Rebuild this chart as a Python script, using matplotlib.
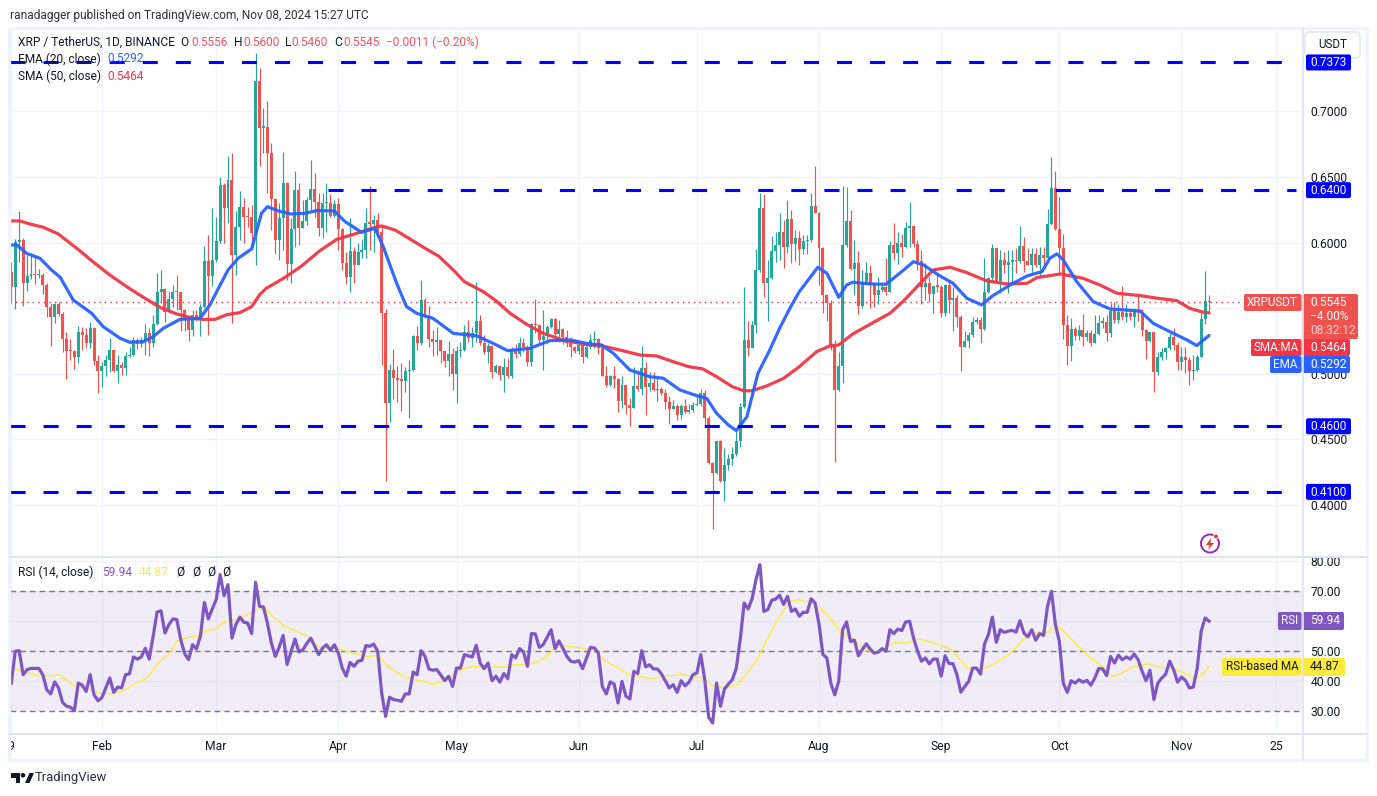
import numpy as np
import matplotlib
matplotlib.use("Agg")
import matplotlib.pyplot as plt
from matplotlib.patches import FancyBboxPatch, Rectangle, Circle, Polygon

plt.rcParams['font.family'] = ['Roboto', 'DejaVu Sans']

first_open = 0.5779
closes = [
 .5664,.6007,.6020,.5695,.5746,.5761,.5753,.5755,.5677,.5512,
 .5436,.5532,.5456,.5268,.5177,.5172,.5131,.5317,.5296,.5238,
 .5349,.5101,.5024,.5060,.5106,.5182,.5024,.5067,.5047,.5136,
 .5144,.5258,.5228,.5258,.5309,.5238,.5377,.5626,.5647,.5474,
 .5568,.5626,.5621,.5487,.5410,.5334,.5448,.5410,.5512,.5862,
 .5746,.5868,.6013,.6439,.6267,.6477,.5906,.6122,.6269,.6198,
 .6195,.6071,.7232,.6876,.6884,.6686,.6335,.6020,.6190,.6452,
 .5837,.6104,.6401,.6112,.6165,.6325,.6409,.6312,.6114,.6300,
 .6305,.6206,.6295,.6104,.5848,.5741,.5936,.5830,.5931,.5944,
 .6147,.6145,.6173,.6084,.5466,.4780,.5029,.4971,.4953,.4948,
 .5021,.5026,.5288,.5237,.5562,.5443,.5265,.5242,.5255,.5174,
 .5098,.5151,.4999,.5174,.5179,.5319,.5275,.5308,.5402,.5237,
 .5166,.5212,.5014,.5059,.4988,.5054,.4983,.5189,.5151,.5232,
 .5202,.5090,.5377,.5372,.5258,.5288,.5354,.5418,.5303,.5341,
 .5283,.5232,.5202,.5176,.5219,.5130,.5202,.5258,.5262,.5194,
 .4983,.4915,.4983,.4961,.4796,.4915,.4760,.4740,.4907,.4882,
 .5042,.4902,.4933,.4877,.4882,.4851,.4788,.4732,.4755,.4686,
 .4755,.4709,.4724,.4763,.4770,.4851,.4666,.4318,.4247,.4488,
 .4183,.4305,.4348,.4389,.4488,.4745,.5258,.5200,.5373,.5792,
 .6264,.5695,.5728,.5937,.5982,.6079,.5970,.6180,.5990,.6033,
 .5952,.6013,.6018,.6279,.6224,.5962,.5601,.5543,.5220,.4877,
 .5060,.5985,.6165,.5797,.5842,.5517,.5690,.5766,.5678,.5601,
 .5639,.5665,.5627,.5982,.5924,.5995,.5965,.6109,.6127,.5990,
 .5860,.5665,.5690,.5609,.5670,.5665,.5467,.5678,.5563,.5576,
 .5436,.5208,.5251,.5296,.5395,.5411,.5342,.5627,.5728,.5962,
 .5710,.5868,.5830,.5855,.5868,.5860,.5975,.5863,.5830,.5914,
 .5830,.5906,.5886,.6142,.6416,.6101,.5962,.5373,.5215,.5342,
 .5289,.5334,.5284,.5314,.5233,.5304,.5390,.5393,.5314,.5482,
 .5411,.5474,.5436,.5466,.5436,.5474,.5467,.5334,.5253,.5317,
 .5017,.5131,.5169,.5195,.5278,.5220,.5093,.5126,.5106,.5022,
 .5029,.5131,.5415,.5556,.5545]
highs = [
 .5855,.6030,.6241,.6038,.5905,.5923,.5893,.5799,.5766,.5690,
 .5537,.5537,.5550,.5474,.5316,.5268,.5182,.5365,.5360,.5347,
 .5398,.5360,.5144,.5093,.5144,.5271,.5190,.5144,.5093,.5169,
 .5207,.5283,.5271,.5283,.5377,.5347,.5448,.5766,.5791,.5652,
 .5626,.5677,.5753,.5626,.5495,.5436,.5487,.5487,.5530,.5974,
 .6058,.6262,.6198,.6503,.6452,.6660,.6681,.6241,.6394,.6338,
 .6274,.6287,.7443,.7328,.7024,.7082,.6757,.6338,.6300,.6693,
 .6465,.6190,.6546,.6452,.6325,.6350,.6630,.6528,.6376,.6376,
 .6452,.6371,.6325,.6338,.6109,.5931,.6185,.5969,.5995,.6025,
 .6261,.6432,.6211,.6223,.6135,.5491,.5075,.5189,.5060,.5080,
 .5054,.5105,.5296,.5364,.5715,.5575,.5517,.5334,.5354,.5258,
 .5174,.5253,.5194,.5212,.5245,.5372,.5410,.5359,.5697,.5448,
 .5296,.5237,.5212,.5075,.5067,.5118,.5118,.5202,.5227,.5283,
 .5270,.5219,.5385,.5570,.5377,.5486,.5372,.5428,.5428,.5410,
 .5346,.5334,.5283,.5212,.5240,.5220,.5237,.5303,.5326,.5270,
 .5220,.5060,.4991,.5060,.4966,.4983,.4915,.4813,.5050,.5029,
 .5212,.5093,.5016,.5016,.4966,.4902,.4882,.4831,.4801,.4770,
 .4770,.4808,.4770,.4788,.4839,.4882,.4877,.4679,.4331,.4488,
 .4496,.4437,.4389,.4445,.4572,.4775,.5659,.5403,.5403,.5949,
 .6381,.6371,.5868,.6051,.6084,.6224,.6173,.6325,.6249,.6097,
 .6092,.6059,.6059,.6381,.6584,.6236,.5965,.5609,.5565,.5258,
 .5165,.6432,.6427,.6249,.6020,.5936,.5794,.5850,.5830,.5690,
 .5741,.5700,.5880,.6010,.6147,.6084,.6066,.6160,.6313,.6135,
 .6020,.5944,.5843,.5736,.5678,.5754,.5678,.5686,.5716,.5665,
 .5601,.5449,.5327,.5322,.5436,.5436,.5430,.5886,.5741,.5990,
 .5962,.5944,.5931,.5944,.5944,.5957,.6127,.6046,.5957,.5957,
 .5957,.5964,.5969,.6254,.6650,.6546,.6351,.6063,.5449,.5423,
 .5360,.5373,.5456,.5334,.5334,.5449,.5449,.5436,.5449,.5538,
 .5550,.5533,.5670,.5533,.5487,.5500,.5601,.5492,.5340,.5322,
 .5317,.5169,.5195,.5207,.5309,.5347,.5243,.5207,.5207,.5131,
 .5143,.5143,.5466,.5784,.5600]
lows = [
 .5537,.5492,.5855,.5517,.5631,.5720,.5685,.5733,.5609,.5436,
 .5215,.5390,.5441,.5169,.4961,.5105,.5037,.5085,.5182,.5194,
 .5194,.5068,.4857,.4902,.4984,.5017,.5017,.4931,.4990,.4990,
 .5131,.5136,.5187,.5207,.5144,.5139,.5202,.5372,.5537,.5398,
 .5461,.5507,.5487,.5327,.5329,.5253,.5288,.5400,.5291,.5500,
 .5296,.5670,.5855,.5995,.5995,.6147,.5385,.5754,.6020,.6000,
 .6122,.5957,.5830,.6584,.6686,.6381,.6096,.5913,.5868,.5944,
 .5715,.5690,.5969,.5982,.6109,.6135,.6249,.6198,.6051,.6038,
 .6084,.6198,.6198,.5944,.5792,.5682,.5627,.5690,.5855,.5886,
 .5880,.5944,.5931,.6033,.5067,.4186,.4635,.4808,.4788,.4719,
 .4864,.4666,.5021,.5181,.5220,.5423,.5207,.5136,.5143,.5085,
 .5054,.4983,.4877,.4780,.5125,.5174,.5245,.5202,.5245,.5217,
 .5151,.5080,.4971,.5004,.4953,.4864,.4966,.4968,.5118,.5136,
 .5169,.5062,.5060,.5308,.5220,.5029,.5232,.5346,.5288,.5240,
 .5227,.5207,.5125,.5160,.5151,.5080,.5118,.5186,.5194,.5150,
 .4986,.4897,.4907,.4895,.4712,.4742,.4694,.4602,.4740,.4872,
 .4839,.4686,.4869,.4872,.4793,.4839,.4730,.4618,.4730,.4648,
 .4653,.4704,.4704,.4712,.4755,.4755,.4610,.4313,.3818,.4237,
 .4178,.4031,.4267,.4305,.4374,.4445,.4742,.5137,.5200,.5314,
 .5779,.5584,.5406,.5723,.5855,.5868,.5805,.5919,.5848,.5863,
 .5830,.5914,.5916,.6008,.6224,.5677,.5467,.5406,.5182,.4324,
 .4870,.4928,.5970,.5790,.5601,.5454,.5500,.5685,.5500,.5507,
 .5530,.5620,.5600,.5620,.5868,.5838,.5893,.5957,.5970,.5970,
 .5792,.5530,.5563,.5551,.5467,.5625,.5436,.5441,.5462,.5327,
 .5360,.5025,.5202,.5195,.5284,.5378,.5233,.5334,.5613,.5710,
 .5703,.5614,.5766,.5619,.5703,.5771,.5842,.5779,.5830,.5771,
 .5817,.5736,.5830,.5881,.6134,.6096,.5766,.5266,.5068,.5101,
 .5258,.5258,.5213,.5250,.5213,.5233,.5296,.5347,.5253,.5284,
 .5385,.5390,.5411,.5398,.5411,.5360,.5406,.5289,.5113,.5243,
 .4864,.4992,.5106,.5111,.5182,.5182,.5030,.5030,.5004,.4915,
 .4953,.5022,.5131,.5377,.5460]

sma_days = [0,2.2,4.7,8.1,11.9,16.6,20.4,25,29.3,33.5,37.7,42,46.2,48.7,51.7,54.7,58,61,63,64.7,66.5,69.5,73.7,78,82.6,87.2,91.5,94,97.4,101.6,105,108.4,112.2,115,119.8,123,126.6,130.8,135,140,145,150,154.5,159.6,163.8,168,172,175.5,179,183,185.8,188,191.7,196,200,204.4,207.8,210,213.6,218.7,223,226.3,229.9,234,238.3,242.5,247.6,252.7,257.8,260.3,266.3,272,276.3,280.6,286.5,290.8,295.8,299.1,302.5,304]
sma_vals = [.6165,.6165,.6142,.6117,.6066,.5957,.5862,.5753,.5664,.5583,.5507,.5456,.5423,.5415,.5415,.5451,.5466,.5512,.5601,.5652,.5682,.5736,.5822,.5931,.6025,.6066,.6109,.6127,.6096,.6020,.5957,.5898,.5791,.5702,.5626,.5557,.5461,.5377,.5308,.5258,.5227,.5212,.5181,.5143,.5136,.5092,.5054,.5037,.4978,.4902,.4871,.4871,.4907,.4965,.5054,.5169,.5213,.5220,.5304,.5390,.5461,.5550,.5665,.5792,.5812,.5771,.5708,.5685,.5690,.5733,.5761,.5728,.5677,.5614,.5596,.5576,.5558,.5499,.5469,.5464]
ema_days = [0,1.4,3.9,7.3,10.2,12.4,15.7,20.4,23.3,27.6,30.1,33.5,36,38.6,42.8,47.9,50.4,53,55,57.6,61,63.5,65,67.8,71,74.5,77.5,82,84.7,88.9,92.3,94.4,97.8,100.3,102.9,107,112.2,118,122.3,126,131.6,136.7,141.8,146.9,149.8,152.8,157,162,165.5,169.7,174,176.5,179,182,184,186.7,189.5,192.5,195,197.6,200,204.7,207,210,212,213.6,218,222,226,229,231.5,235.7,239,242.5,246.3,249,253.5,257.8,261.6,263.6,265.4,267,270.4,274.6,278.9,286.5,289.8,294,298.4,300.9,302.1,304]
ema_vals = [.5982,.5982,.5918,.5880,.5791,.5736,.5563,.5461,.5360,.5271,.5240,.5245,.5283,.5347,.5415,.5423,.5525,.5677,.5791,.5881,.5952,.6223,.6274,.6241,.6218,.6223,.6244,.6241,.6160,.6079,.6109,.5969,.5690,.5512,.5461,.5423,.5308,.5291,.5232,.5176,.5194,.5253,.5258,.5227,.5220,.5156,.5029,.4978,.4966,.4877,.4833,.4813,.4699,.4610,.4567,.4673,.5004,.5181,.5347,.5499,.5626,.5812,.5766,.5583,.5677,.5698,.5685,.5682,.5779,.5855,.5830,.5746,.5690,.5576,.5525,.5593,.5677,.5746,.5779,.5881,.5914,.5868,.5703,.5550,.5494,.5479,.5385,.5322,.5258,.5215,.5246,.5292]

rsi_vals = [
 39.3,49.9,50.1,42.1,43.8,44.2,44.2,44.2,42.1,37.1,
 35.7,39.7,37.7,32.9,31.6,31.3,30.1,39.3,38.6,36.5,
 42.1,35.4,33.4,34.5,37.8,41.0,36.2,38.0,37.7,42.1,
 42.4,48.0,47.3,48.0,50.9,47.3,54.9,63.0,63.4,56.0,
 58.8,60.7,60.5,53.8,49.1,47.1,52.1,50.7,54.9,66.2,
 60.7,64.0,67.1,75.5,68.4,72.1,54.3,58.8,61.3,59.6,
 59.3,55.8,72.9,64.9,64.7,59.3,52.7,48.2,51.3,55.2,
 45.5,49.7,54.0,49.7,50.4,52.5,54.3,51.6,48.8,51.0,
 52.1,50.2,52.1,49.3,44.3,41.6,46.2,44.9,46.6,46.9,
 51.8,51.6,52.3,49.9,36.0,28.2,34.6,33.8,33.6,33.2,
 35.7,35.7,43.0,42.1,50.1,48.2,44.0,43.6,43.8,42.0,
 40.1,41.6,38.2,44.3,44.3,48.8,48.4,48.0,51.9,46.0,
 44.1,46.0,40.1,41.6,39.6,42.5,40.8,48.8,47.7,50.8,
 49.7,44.9,55.8,55.7,51.2,52.1,54.6,57.1,50.8,53.4,
 50.9,48.2,46.6,46.3,46.8,44.1,47.6,51.2,51.0,49.3,
 38.2,35.7,39.7,39.0,32.7,39.9,34.9,34.0,43.2,42.5,
 50.1,44.7,45.4,44.0,44.0,42.4,40.0,37.7,38.8,36.2,
 40.1,38.4,39.6,42.1,42.7,48.8,40.4,27.9,26.0,39.3,
 31.6,37.3,39.0,40.4,44.3,53.8,66.0,64.0,67.3,73.8,
 78.8,63.2,63.8,66.9,67.3,68.6,65.5,68.2,63.2,64.0,
 61.6,62.9,62.9,67.4,66.0,59.0,48.8,47.7,39.3,35.4,
 39.9,57.1,59.7,53.2,53.6,48.4,50.5,52.4,50.6,49.3,
 49.6,50.8,49.9,57.1,55.8,57.3,56.8,59.7,59.9,54.3,
 50.0,46.6,47.7,45.7,47.3,47.3,41.6,48.4,45.8,45.8,
 42.1,36.3,38.2,39.9,44.3,44.3,42.3,52.3,55.5,61.3,
 52.9,57.1,56.2,56.6,56.9,56.3,60.1,56.0,54.7,57.1,
 53.6,55.8,55.2,64.9,69.9,58.8,53.2,39.3,36.2,40.1,
 39.3,40.4,39.6,40.2,38.6,41.0,44.2,44.0,41.8,48.2,
 46.0,48.6,47.1,48.0,47.3,49.0,47.1,43.2,40.1,43.6,
 33.8,39.3,41.0,42.3,46.6,43.8,39.6,41.3,40.2,37.7,
 38.0,44.3,56.6,61.0,59.94]
rsima_days = [0,3.5,7,11,12,14.5,16,19,22,25.5,29,31,34.5,37.7,39.8,42,44,47.7,49.5,52,53.5,55.6,58.2,60.8,62.4,64.5,67.2,69.3,73,75,77.2,78.7,82.4,86.6,89.8,93,95.6,98.7,101.4,104.5,107.2,110.8,114.5,117.2,120.3,125.6,127.7,131.4,135,138.2,140.3,144.5,148.2,150.8,154,157.2,159.3,162.2,165.5,170.2,175.9,177.9,181.4,184.4,189.1,192,195,197.9,199.7,203.2,206.2,208.5,210.5,213.8,216.2,219.1,222.1,223.8,227.4,230.3,235,238.6,242.7,246.2,249.8,253.3,256.8,260.4,263.3,265.1,266.8,270.4,273.9,276.8,279.2,280.4,284.5,288.6,291,295.1,298,300.4,302.2,304]
rsima_vals = [44.1,43.0,41.6,41.8,42.1,39.9,38.2,37.7,36.0,35.7,37.1,38.8,41.0,46.6,48.8,53.2,54.3,55.1,56.8,57.3,59.3,60.2,61.0,62.7,64.0,64.0,60.5,58.2,56.2,55.1,52.1,51.0,51.0,49.3,48.2,48.4,44.9,42.1,40.7,39.9,38.8,40.7,44.0,44.9,44.6,44.7,45.4,45.4,47.3,51.0,51.8,51.0,50.2,46.6,44.3,41.8,41.6,40.7,41.6,42.1,41.0,38.4,37.7,38.8,46.6,54.3,61.6,66.6,67.1,66.0,63.2,59.9,56.0,54.0,51.0,49.1,51.0,52.7,52.7,54.0,52.4,50.4,44.3,43.6,46.0,48.8,53.8,56.3,56.3,58.0,57.1,52.1,47.7,44.9,41.8,41.6,44.6,45.7,44.7,44.1,42.4,40.8,41.8,44.87]

levels = [0.7373, 0.6400, 0.4600, 0.4100]
level_starts = [-0.3, 80.3, -0.3, -0.3]
level_labels = ["0.7373", "0.6400", "0.4600", "0.4100"]
price_ticks = [0.40, 0.45, 0.50, 0.55, 0.60, 0.65, 0.70]
price_hidden = [0.55]
rsi_ticks = [30, 40, 50, 60, 70, 80]
rsi_hidden = [60]
time_days = [0, 23, 52, 83, 113, 144, 174, 205, 236, 266, 297, 321]
time_labels = ["9", "Feb", "Mar", "Apr", "May", "Jun", "Jul", "Aug", "Sep", "Oct", "Nov", "25"]
last_price = 0.5545

W, H = 1377, 796
fig = plt.figure(figsize=(W/100, H/100), dpi=100, facecolor="white")
def pane(x0, y0, x1, y1):
    return fig.add_axes([x0/W, 1-y1/H, (x1-x0)/W, (y1-y0)/H])

ax = pane(10, 30, 1302, 556)
ar = pane(10, 557, 1302, 733)
xl = ((10-11.3)/3.94, (1302-11.3)/3.94)
ax.set_xlim(*xl); ar.set_xlim(*xl)
ax.set_ylim(0.4-51/1312, 0.4+475/1312)
ar.set_ylim(70-142/3, 70+34/3)

INK = "#131722"
GRID = "#f0f3fa"
for a in (ax, ar):
    for s in a.spines.values():
        s.set_visible(False)
    a.set_xticks(time_days)
    a.yaxis.tick_right()
    a.tick_params(length=0, labelsize=8.7, labelcolor=INK, pad=6)
    a.grid(True, color=GRID, lw=1.0, zorder=0)
    a.set_axisbelow(True)
ax.set_xticklabels([])
ax.set_yticks(price_ticks)
ax.set_yticklabels(["" if t in price_hidden else f"{t:.4f}" for t in price_ticks])
ar.set_yticks(rsi_ticks)
ar.set_yticklabels(["" if t in rsi_hidden else f"{t:.2f}" for t in rsi_ticks])
ar.set_xticklabels(time_labels)
ar.tick_params(axis="x", pad=5)

days = np.arange(len(closes))
c = np.array(closes); hi = np.array(highs); lo = np.array(lows)
o = np.r_[first_open, c[:-1]]
up = c >= o
colors = np.where(up, "#26a69a", "#ef5350")
hi = np.maximum(hi, np.maximum(o, c)); lo = np.minimum(lo, np.minimum(o, c))
ax.vlines(days, lo, hi, colors=colors, lw=0.85, zorder=3)
ax.bar(days, np.maximum(np.abs(c-o), 0.0009), bottom=np.minimum(o, c), width=0.76, color=colors, lw=0, zorder=4)

ax.plot(sma_days, sma_vals, color="#f23645", lw=2.3, zorder=5, solid_capstyle="round", alpha=.95)
ax.plot(ema_days, ema_vals, color="#2962ff", lw=2.3, zorder=6, solid_capstyle="round", alpha=.95)
ax.plot([xl[0], 312.6], [last_price]*2, color="#f23645", lw=1, ls=(0, (1, 3)), zorder=2)

for lev, st in zip(levels, level_starts):
    ax.plot([st, 326], [lev, lev], color="#0000ff", lw=2.2, ls=(0, (15/3.05, 18/3.05)),
            dash_capstyle="butt", zorder=7)

ar.axhspan(30, 70, color="#7e57c2", alpha=0.1, lw=0, zorder=1)
for lev in (70, 50, 30):
    ar.axhline(lev, color="#787b86", lw=1, ls=(0, (4, 3)), zorder=2)
ar.plot(rsima_days, rsima_vals, color="#ffeb3b", lw=1, zorder=3)
ar.plot(days, rsi_vals, color="#7e57c2", lw=2.3, zorder=4)

# overlay in screen pixels: frame, legends and price tags
ov = fig.add_axes([0, 0, 1, 1], facecolor="none", zorder=10)
ov.set_xlim(0, W); ov.set_ylim(H, 0); ov.axis("off")
FRAME = "#e0e3eb"
ov.add_patch(Rectangle((8.5, 27.5), 1358.5, 732, fill=False, ec="#f0f3fa", lw=2.4))
ov.plot([10, 1367], [556.5, 556.5], color=FRAME, lw=1.4)
ov.plot([10, 1367], [733.5, 733.5], color=FRAME, lw=1.4)
ov.plot([1302.5, 1302.5], [28, 760], color=FRAME, lw=1.2)

def T(x, y, s, color=INK, size=8.6, ha="left", **kw):
    return ov.text(x, y, s, color=color, fontsize=size, ha=ha, va="center", **kw)
def box(x0, y0, x1, y1, color, r=2):
    ov.add_patch(FancyBboxPatch((x0+r, y0+r), x1-x0-2*r, y1-y0-2*r, boxstyle=f"round,pad={r},rounding_size={r}",
                                fc=color, ec="none", mutation_aspect=1))

T(10, 15, "ranadagger published on TradingView.com, Nov 08, 2024 15:27 UTC", color="#333333")
T(18, 42, "XRP / TetherUS, 1D, BINANCE")
rc = "#f7525f"
for x, s1, x2, s2 in [(180, "O", 191, "0.5556"), (234, "H", 243, "0.5600"), (285, "L", 291, "0.5460"), (334, "C", 343, "0.5545")]:
    T(x, 42, s1)
    T(x2, 42, s2, color=rc)
T(386, 42, "−0.0011 (−0.20%)", color=rc)
T(18, 59, "EMA (20, close)")
T(107, 59, "0.5292", color="#2962ff")
T(18, 76, "SMA (50, close)")
T(107, 76, "0.5464", color="#f23645")
T(18, 572, "RSI (14, close)")
T(102, 572, "59.94", color="#7e57c2")
T(139, 572, "44.87", color="#ffeb3b")
for x in (176, 192, 207, 222):
    T(x, 572, "Ø")

ov.add_patch(FancyBboxPatch((1308, 35), 49, 20, boxstyle="round,pad=3,rounding_size=4", fc="white", ec=FRAME, lw=1))
T(1332.5, 45, "USDT", ha="center", size=8.4)

for lev, lab in zip(levels, level_labels):
    y = 505 - (lev-0.4)*1312
    box(1306, y-8, 1351, y+8, "#0000ff")
    T(1328.5, y+0.3, lab, color="white", ha="center", size=8.6)

tr = "#ef5350"
box(1244, 294, 1301.5, 311, tr)
T(1272.5, 302.5, "XRPUSDT", color="white", ha="center", size=8.4)
box(1302.5, 294, 1358, 339, tr)
T(1310, 302.5, "0.5545", color="white", size=8.6)
T(1310, 316.5, "−4.00%", color="white", size=8.6)
T(1310, 331, "08:32:12", color="#fbd0ce", size=8.6)
box(1251, 339, 1301.5, 356, "#f23645")
T(1276, 347.5, "SMA:MA", color="white", ha="center", size=8.4)
box(1302.5, 339, 1350, 356, "#f23645")
T(1310, 347.5, "0.5464", color="white", size=8.6)
box(1270, 356, 1301.5, 373, "#2962ff")
T(1285.5, 364.5, "EMA", color="white", ha="center", size=8.4)
box(1302.5, 356, 1350, 373, "#2962ff")
T(1310, 364.5, "0.5292", color="white", size=8.6)

box(1278, 612, 1301.5, 630, "#7e57c2")
T(1290, 621, "RSI", color="white", ha="center", size=8.4)
box(1302.5, 612, 1344, 630, "#7e57c2")
T(1310, 621, "59.94", color="white", size=8.6)
box(1222, 658, 1301.5, 676, "#ffeb3b")
T(1262, 667, "RSI-based MA", ha="center", size=8.4)
box(1302.5, 658, 1345, 676, "#ffeb3b")
T(1310, 667, "44.87", size=8.6)

# flash icon
ov.add_patch(Circle((1210, 543.5), 9, fc="white", ec="#9c27b0", lw=1.4))
ov.add_patch(Polygon([(1211, 538), (1206, 545), (1209.5, 545), (1208, 550), (1214, 543), (1210.5, 543)], fc="#e53935", ec="none"))
ov.add_patch(Circle((1216, 536.5), 2.4, fc="#f23645", ec="white", lw=0.6))

# TradingView logo
ov.add_patch(Polygon([(11, 773), (20, 773), (20, 783), (15.5, 783), (15.5, 777.5), (11, 777.5)], fc=INK, ec="none"))
ov.add_patch(Circle((23, 775.3), 2.3, fc=INK, ec="none"))
ov.add_patch(Polygon([(25, 783), (29.5, 773), (34, 773), (29.5, 783)], fc=INK, ec="none"))
T(35, 778, "TradingView", size=9.4, color="#2a2e39")

fig.savefig("out.png", dpi=100)
